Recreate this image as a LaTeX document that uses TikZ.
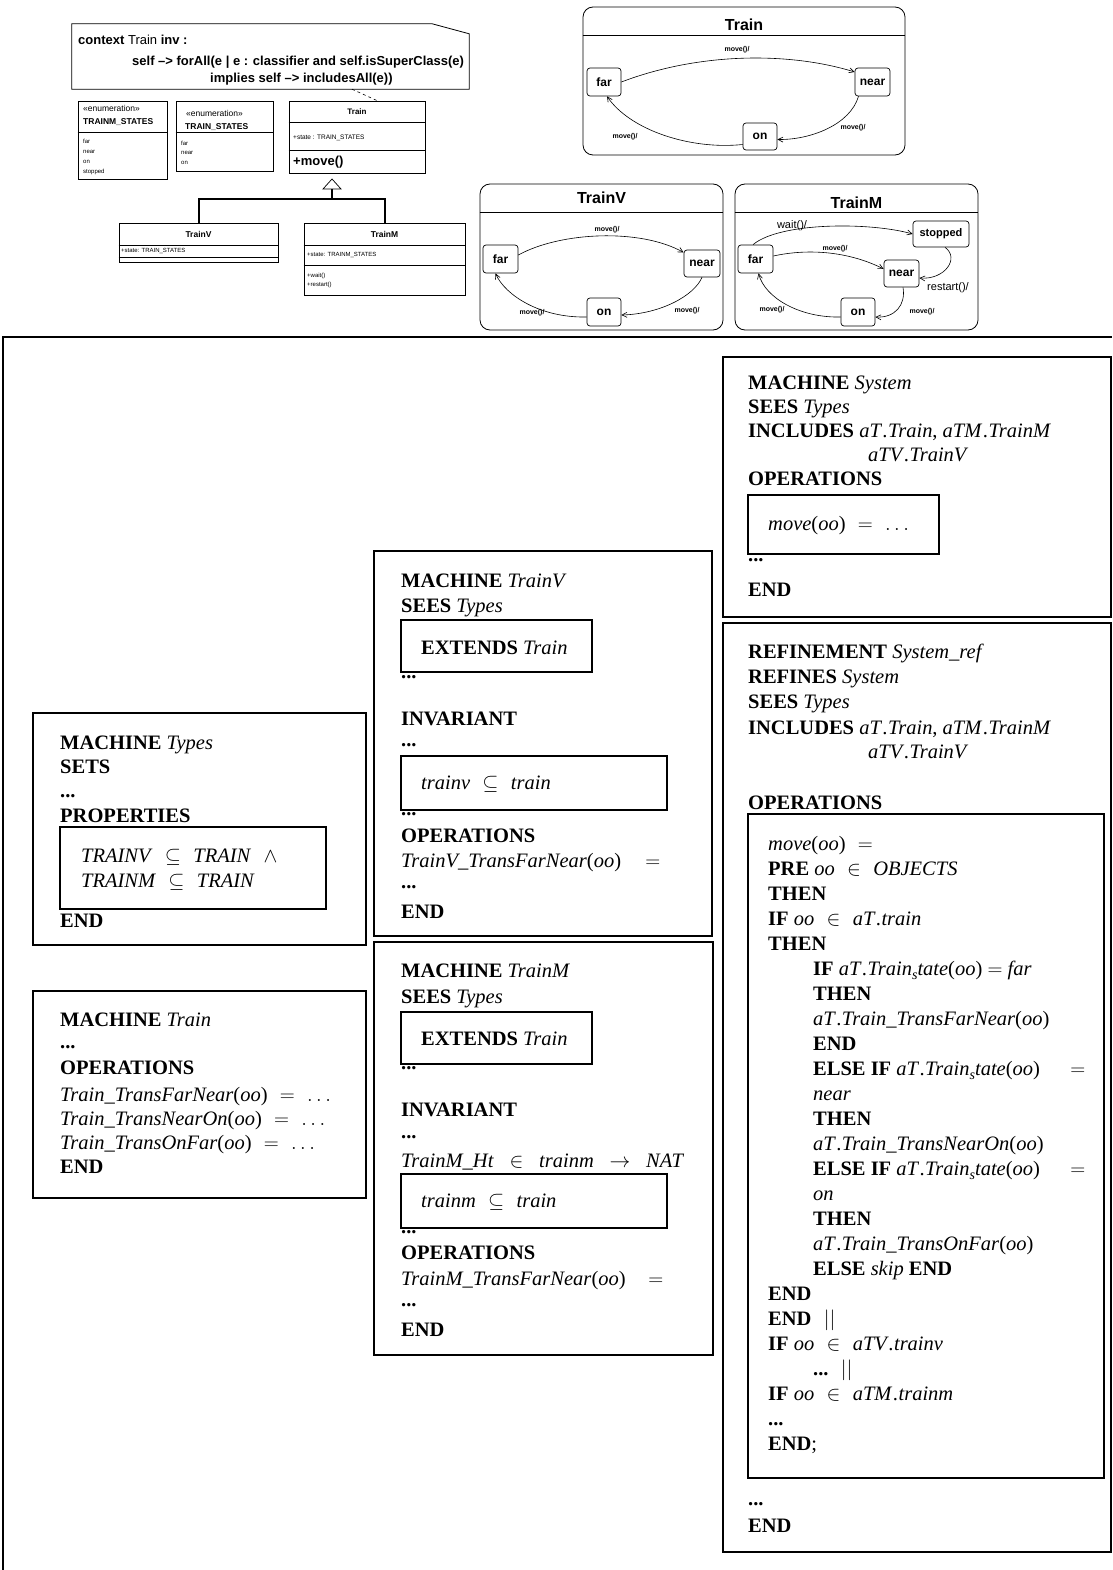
\documentclass[tikz,border=0pt]{standalone}
\usepackage{fontspec}
\setmainfont{Liberation Serif}
\newfontfamily\umlfont{Liberation Sans}
\usetikzlibrary{arrows.meta,positioning}

\newcommand\kw[1]{\textbf{#1}}
\newcommand\id[1]{\textit{#1}}
\newcommand\dotsep{\kern2pt.}
\newcommand\subs{\raisebox{-4pt}{\fontsize{14}{14}\selectfont\textit{s}}}
\newcommand\umlsize[1]{\umlfont\fontsize{#1}{#1}\selectfont}
\newcommand\bsize{\fontsize{20.5}{25}\selectfont}
\newcommand\gap{\hspace{0.6em}}

\begin{document}
\begin{tikzpicture}[x=1pt, y=-1pt,
  cls/.style 2 args={draw, line width=0.8pt, inner sep=0pt, minimum width=#1, minimum height=#2},
  frame/.style 2 args={draw, line width=1.6pt, inner sep=0pt, minimum width=#1, minimum height=#2},
  chart/.style 2 args={draw, line width=0.8pt, rounded corners=10pt, inner sep=0pt, minimum width=#1, minimum height=#2},
  state/.style={draw, line width=0.7pt, rounded corners=3pt, inner sep=0pt, minimum height=28pt, font=\umlsize{12}\bfseries},
  sctitle/.style={inner sep=0pt, font=\umlsize{16}\bfseries},
  trans/.style={line width=0.6pt, -{Straight Barb[length=5pt,width=5pt]}},
  lbl/.style={inner sep=0pt, font=\umlsize{7}\bfseries},
  ocl/.style={anchor=base west, inner sep=0pt, font=\umlsize{13}},
  ctext/.style={anchor=west, inner sep=0pt, font=\umlsize{6.5}},
  bline/.style={anchor=base west, inner sep=0pt, font=\bsize},
]
\useasboundingbox (0,0) rectangle (1112,1570);

% OCL constraint
\node[inner sep=0pt, minimum width=397pt, minimum height=65pt] (note) at (270.5,56.5) {};
\draw[line width=0.8pt] (note.south west) -- (note.north west) -- ([xshift=-37pt]note.north east)
  -- ([yshift=-10pt]note.north east) -- (note.south east) -- cycle;
\node[ocl] (ocl-1) at (78,45) {\textbf{context} Train \textbf{inv :}};
\node[ocl] (ocl-2) at (132,66) {\textbf{self –> forAll(e | e : classifier and self.isSuperClass(e)}};
\node[ocl] (ocl-3) at (210,83) {\textbf{implies self –> includesAll(e))}};

% class diagram
\node[cls={89pt}{78pt}] (mstates) at (122.5,140) {};
\draw[line width=0.8pt] (mstates.west |- 0,132) -- (mstates.east |- 0,132);
\node[ctext, font=\umlsize{8.5}] (mstates-st) at (83,108) {«enumeration»};
\node[ctext, font=\umlsize{8.5}\bfseries] (mstates-nm) at (83,122) {TRAINM\_STATES};
\foreach \y/\t [count=\i] in {141/far, 152/near, 162/on, 172/stopped}
  \node[ctext, font=\umlsize{6}] (mstates-\i) at (83,\y) {\t};

\node[cls={97pt}{70pt}] (tstates) at (224.5,136) {};
\draw[line width=0.8pt] (tstates.west |- 0,132) -- (tstates.east |- 0,132);
\node[ctext, font=\umlsize{8.5}] (tstates-st) at (186,113) {«enumeration»};
\node[ctext, font=\umlsize{8.5}\bfseries] (tstates-nm) at (185,127) {TRAIN\_STATES};
\foreach \y/\t [count=\i] in {143/far, 153/near, 163/on}
  \node[ctext, font=\umlsize{6}] (tstates-\i) at (181,\y) {\t};

\node[cls={136pt}{72pt}] (trainc) at (357,137) {};
\draw[line width=0.8pt] (trainc.west |- 0,122) -- (trainc.east |- 0,122);
\draw[line width=0.8pt] (trainc.west |- 0,150) -- (trainc.east |- 0,150);
\node[inner sep=0pt, font=\umlsize{8}\bfseries] (trainc-nm) at (357,112) {Train};
\node[ctext] (trainc-at) at (293,138) {+state : TRAIN\_STATES};
\node[ctext, font=\umlsize{13}\bfseries] (trainc-op) at (293,162) {+move()};

\node[cls={159pt}{39pt}] (trainv) at (198.5,242.5) {};
\draw[line width=0.8pt] (trainv.west |- 0,245) -- (trainv.east |- 0,245);
\draw[line width=0.8pt] (trainv.west |- 0,257) -- (trainv.east |- 0,257);
\node[inner sep=0pt, font=\umlsize{8.5}\bfseries] (trainv-nm) at (198.5,234) {TrainV};
\node[ctext, font=\umlsize{6}] (trainv-at) at (121,251) {+state: TRAIN\_STATES};

\node[cls={161pt}{72pt}] (trainm) at (384.5,259) {};
\draw[line width=0.8pt] (trainm.west |- 0,245) -- (trainm.east |- 0,245);
\draw[line width=0.8pt] (trainm.west |- 0,265) -- (trainm.east |- 0,265);
\node[inner sep=0pt, font=\umlsize{8.5}\bfseries] (trainm-nm) at (384.5,234) {TrainM};
\node[ctext, font=\umlsize{6}] (trainm-at) at (307,255) {+state: TRAINM\_STATES};
\node[ctext, font=\umlsize{6}] (trainm-op1) at (307,276) {+wait()};
\node[ctext, font=\umlsize{6}] (trainm-op2) at (307,285) {+restart()};

% generalisation and constraint link
\coordinate (gen) at (332,199);
\coordinate (tri) at (332,189);
\draw[line width=2pt] (trainv.north) |- (gen) -| (trainm.north);
\draw[line width=2pt] (gen) -- (tri);
\draw[line width=0.7pt, fill=white] ([xshift=-9pt]tri) -- ([yshift=10pt]tri) -- ([xshift=9pt]tri) -- cycle;
\draw[line width=0.6pt, dash pattern=on 3pt off 3pt] ([xshift=81.5pt]note.south) -- ([xshift=20pt]trainc.north);

% statechart Train
\node[chart={322pt}{148pt}] (sc-t) at (744,81) {};
\draw[line width=0.8pt] (sc-t.west |- 0,35) -- (sc-t.east |- 0,35);
\node[sctitle] (sc-t-nm) at (744,25) {Train};
\node[state, minimum width=34pt] (t-far) at (604,82) {far};
\node[state, minimum width=35pt] (t-near) at (872.5,82) {near};
\node[state, minimum width=34pt, minimum height=27pt] (t-on) at (760,136.5) {on};
\draw[trans] (t-far.east) .. controls (700,52) and (790,52) .. ([yshift=10pt]t-near.west);
\draw[trans] ([xshift=-14pt]t-near.south) .. controls (850,125) and (810,140) .. ([yshift=-3pt]t-on.east);
\draw[trans] ([yshift=-8pt]t-on.west) .. controls (690,150) and (630,130) .. ([xshift=3pt]t-far.south);
\node[lbl] (t-l1) at (737,50) {move()/};
\node[lbl] (t-l2) at (853,128) {move()/};
\node[lbl] (t-l3) at (625,137) {move()/};

% statechart TrainV
\node[chart={243pt}{146pt}] (sc-v) at (601.5,257) {};
\draw[line width=0.8pt] (sc-v.west |- 0,212) -- (sc-v.east |- 0,212);
\node[sctitle] (sc-v-nm) at (601.5,198) {TrainV};
\node[state, minimum width=35pt] (v-far) at (500.5,259) {far};
\node[state, minimum width=36pt, minimum height=27pt] (v-near) at (702,263.5) {near};
\node[state, minimum width=34pt] (v-on) at (604,312) {on};
\draw[trans] ([yshift=4pt]v-far.east) .. controls (560,232) and (640,228) .. ([yshift=11pt]v-near.west);
\draw[trans] (v-near.south) .. controls (694,296) and (660,314) .. ([yshift=-3pt]v-on.east);
\draw[trans] ([yshift=-5pt]v-on.west) .. controls (540,318) and (505,295) .. ([xshift=-5pt]v-far.south);
\node[lbl] (v-l1) at (607,230) {move()/};
\node[lbl] (v-l2) at (687,311) {move()/};
\node[lbl] (v-l3) at (532,313) {move()/};

% statechart TrainM
\node[chart={243pt}{146pt}] (sc-m) at (856.5,257) {};
\draw[line width=0.8pt] (sc-m.west |- 0,212) -- (sc-m.east |- 0,212);
\node[sctitle] (sc-m-nm) at (856.5,203) {TrainM};
\node[state, minimum width=35pt] (m-far) at (755.5,259) {far};
\node[state, minimum width=56pt, minimum height=26pt, font=\umlsize{11}\bfseries] (m-stop) at (941,234) {stopped};
\node[state, minimum width=35pt, minimum height=27pt] (m-near) at (901.5,273.5) {near};
\node[state, minimum width=34pt] (m-on) at (858,312) {on};
\draw[trans] ([xshift=-2.5pt]m-far.north) .. controls (780,222) and (870,222) .. (m-stop.west);
\draw[trans] ([yshift=3pt]m-far.east) .. controls (810,248) and (850,252) .. ([yshift=4.5pt]m-near.west);
\draw[trans] ([xshift=4pt]m-stop.south) .. controls (960,258) and (945,280) .. ([yshift=-4.5pt]m-near.east);
\draw[trans] ([xshift=1.5pt]m-near.south) .. controls (906,305) and (895,318) .. ([yshift=-5pt]m-on.east);
\draw[trans] ([yshift=-5pt]m-on.west) .. controls (800,318) and (765,298) .. ([xshift=3pt]m-far.south);
\node[inner sep=0pt, font=\umlsize{11}] (m-l1) at (792,226) {wait()/};
\node[lbl] (m-l2) at (835,249) {move()/};
\node[inner sep=0pt, font=\umlsize{11}] (m-l3) at (948,288) {restart()/};
\node[lbl] (m-l4) at (922,312) {move()/};
\node[lbl] (m-l5) at (772,310) {move()/};

% B machines
\draw[line width=1.6pt] (3,1570) -- (3,337) -- (1112,337);

% System
\node[frame={388pt}{260pt}] (sys) at (917,487) {};
\foreach \y/\t [count=\i] in {389/{\kw{MACHINE} \id{System}}, 413/{\kw{SEES} \id{Types}},
    437/{\kw{INCLUDES} \id{aT\dotsep Train}, \id{aTM\dotsep TrainM}}, 485/{\kw{OPERATIONS}},
    561/{\kw{...}}, 596/{\kw{END}}}
  \node[bline] (sys-\i) at (748,\y) {\t};
\node[bline] (sys-inc) at (868,461) {\id{aTV\dotsep TrainV}};
\node[frame={191pt}{59pt}] (sysop) at (843.5,524.5) {};
\node[bline] (sysop-1) at (768,530) {\id{move}(\id{oo})\gap$=$\gap$\dots$};

% Types
\node[frame={333pt}{232pt}] (types) at (199.5,829) {};
\foreach \y/\t [count=\i] in {749/{\kw{MACHINE} \id{Types}}, 773/{\kw{SETS}}, 797/{\kw{...}},
    822/{\kw{PROPERTIES}}, 927/{\kw{END}}}
  \node[bline] (types-\i) at (60,\y) {\t};
\node[frame={266pt}{82pt}] (props) at (193,868) {};
\node[bline] (props-1) at (81,862) {\id{TRAINV}\gap$\subseteq$\gap\id{TRAIN}\gap$\wedge$};
\node[bline] (props-2) at (81,887) {\id{TRAINM}\gap$\subseteq$\gap\id{TRAIN}};

% Train
\node[frame={333pt}{207pt}] (train) at (199.5,1094.5) {};
\foreach \y/\t [count=\i] in {1026/{\kw{MACHINE} \id{Train}}, 1048/{\kw{...}}, 1074/{\kw{OPERATIONS}},
    1101/{\id{Train\_TransFarNear}(\id{oo})\gap$=$\gap$\dots$},
    1125/{\id{Train\_TransNearOn}(\id{oo})\gap$=$\gap$\dots$},
    1149/{\id{Train\_TransOnFar}(\id{oo})\gap$=$\gap$\dots$}, 1173/{\kw{END}}}
  \node[bline] (train-\i) at (60,\y) {\t};

% TrainV
\node[frame={338pt}{385pt}] (mtv) at (543,743.5) {};
\foreach \y/\t [count=\i] in {587/{\kw{MACHINE} \id{TrainV}}, 612/{\kw{SEES} \id{Types}}, 678/{\kw{...}},
    725/{\kw{INVARIANT}}, 746/{\kw{...}}, 815/{\kw{...}}, 842/{\kw{OPERATIONS}},
    867/{\makebox[259pt][l]{\id{TrainV\_TransFarNear}(\id{oo})\hfill$=$}}, 888/{\kw{...}}, 918/{\kw{END}}}
  \node[bline] (mtv-\i) at (401,\y) {\t};
\node[frame={191pt}{52pt}] (mtv-ext) at (496.5,646) {};
\node[bline] (mtv-ext-1) at (421,654) {\kw{EXTENDS} \id{Train}};
\node[frame={266pt}{54pt}] (mtv-inv) at (534,783) {};
\node[bline] (mtv-inv-1) at (421,789) {\id{trainv}\gap$\subseteq$\gap\id{train}};

% TrainM
\node[frame={339pt}{413pt}] (mtm) at (543.5,1148.5) {};
\foreach \y/\t [count=\i] in {977/{\kw{MACHINE} \id{TrainM}}, 1003/{\kw{SEES} \id{Types}}, 1069/{\kw{...}},
    1116/{\kw{INVARIANT}}, 1138/{\kw{...}},
    1167/{\makebox[283pt][s]{\id{TrainM\_Ht} $\in$ \id{trainm} $\rightarrow$ \id{NAT}}},
    1233/{\kw{...}}, 1259/{\kw{OPERATIONS}},
    1285/{\makebox[262pt][l]{\id{TrainM\_TransFarNear}(\id{oo})\hfill$=$}}, 1306/{\kw{...}}, 1336/{\kw{END}}}
  \node[bline] (mtm-\i) at (401,\y) {\t};
\node[frame={191pt}{52pt}] (mtm-ext) at (496.5,1038) {};
\node[bline] (mtm-ext-1) at (421,1045) {\kw{EXTENDS} \id{Train}};
\node[frame={266pt}{54pt}] (mtm-inv) at (534,1201) {};
\node[bline] (mtm-inv-1) at (421,1207) {\id{trainm}\gap$\subseteq$\gap\id{train}};

% System_ref
\node[frame={388pt}{929pt}] (ref) at (917,1087.5) {};
\foreach \y/\t [count=\i] in {658/{\kw{REFINEMENT} \id{System\_ref}}, 683/{\kw{REFINES} \id{System}},
    708/{\kw{SEES} \id{Types}}, 734/{\kw{INCLUDES} \id{aT\dotsep Train}, \id{aTM\dotsep TrainM}},
    809/{\kw{OPERATIONS}}, 1505/{\kw{...}}, 1532/{\kw{END}}}
  \node[bline] (ref-\i) at (748,\y) {\t};
\node[bline] (ref-inc) at (868,758) {\id{aTV\dotsep TrainV}};
\node[frame={356pt}{664pt}] (refop) at (926,1146) {};
\foreach \x/\t [count=\i from 0] in {
    768/{\id{move}(\id{oo})\gap$=$},
    768/{\kw{PRE} \id{oo}\gap$\in$\gap\id{OBJECTS}},
    768/{\kw{THEN}},
    768/{\kw{IF} \id{oo}\gap$\in$\gap\id{aT\dotsep train}},
    768/{\kw{THEN}},
    813/{\kw{IF} \id{aT\dotsep Train}\subs\id{tate}(\id{oo}) $=$ \id{far}},
    813/{\kw{THEN}},
    813/{\id{aT\dotsep Train\_TransFarNear}(\id{oo})},
    813/{\kw{END}},
    813/{\makebox[272pt][l]{\kw{ELSE IF} \id{aT\dotsep Train}\subs\id{tate}(\id{oo})\hfill$=$}},
    813/{\id{near}},
    813/{\kw{THEN}},
    813/{\id{aT\dotsep Train\_TransNearOn}(\id{oo})},
    813/{\makebox[272pt][l]{\kw{ELSE IF} \id{aT\dotsep Train}\subs\id{tate}(\id{oo})\hfill$=$}},
    813/{\id{on}},
    813/{\kw{THEN}},
    813/{\id{aT\dotsep Train\_TransOnFar}(\id{oo})},
    813/{\kw{ELSE} \id{skip} \kw{END}},
    768/{\kw{END}},
    768/{\kw{END}\gap$||$},
    768/{\kw{IF} \id{oo}\gap$\in$\gap\id{aTV\dotsep trainv}},
    813/{\kw{...}\gap$||$},
    768/{\kw{IF} \id{oo}\gap$\in$\gap\id{aTM\dotsep trainm}},
    768/{\kw{...}},
    768/{\kw{END};}}
  \node[bline] (refop-\i) at (\x,{850+25*\i}) {\t};
\end{tikzpicture}
\end{document}
